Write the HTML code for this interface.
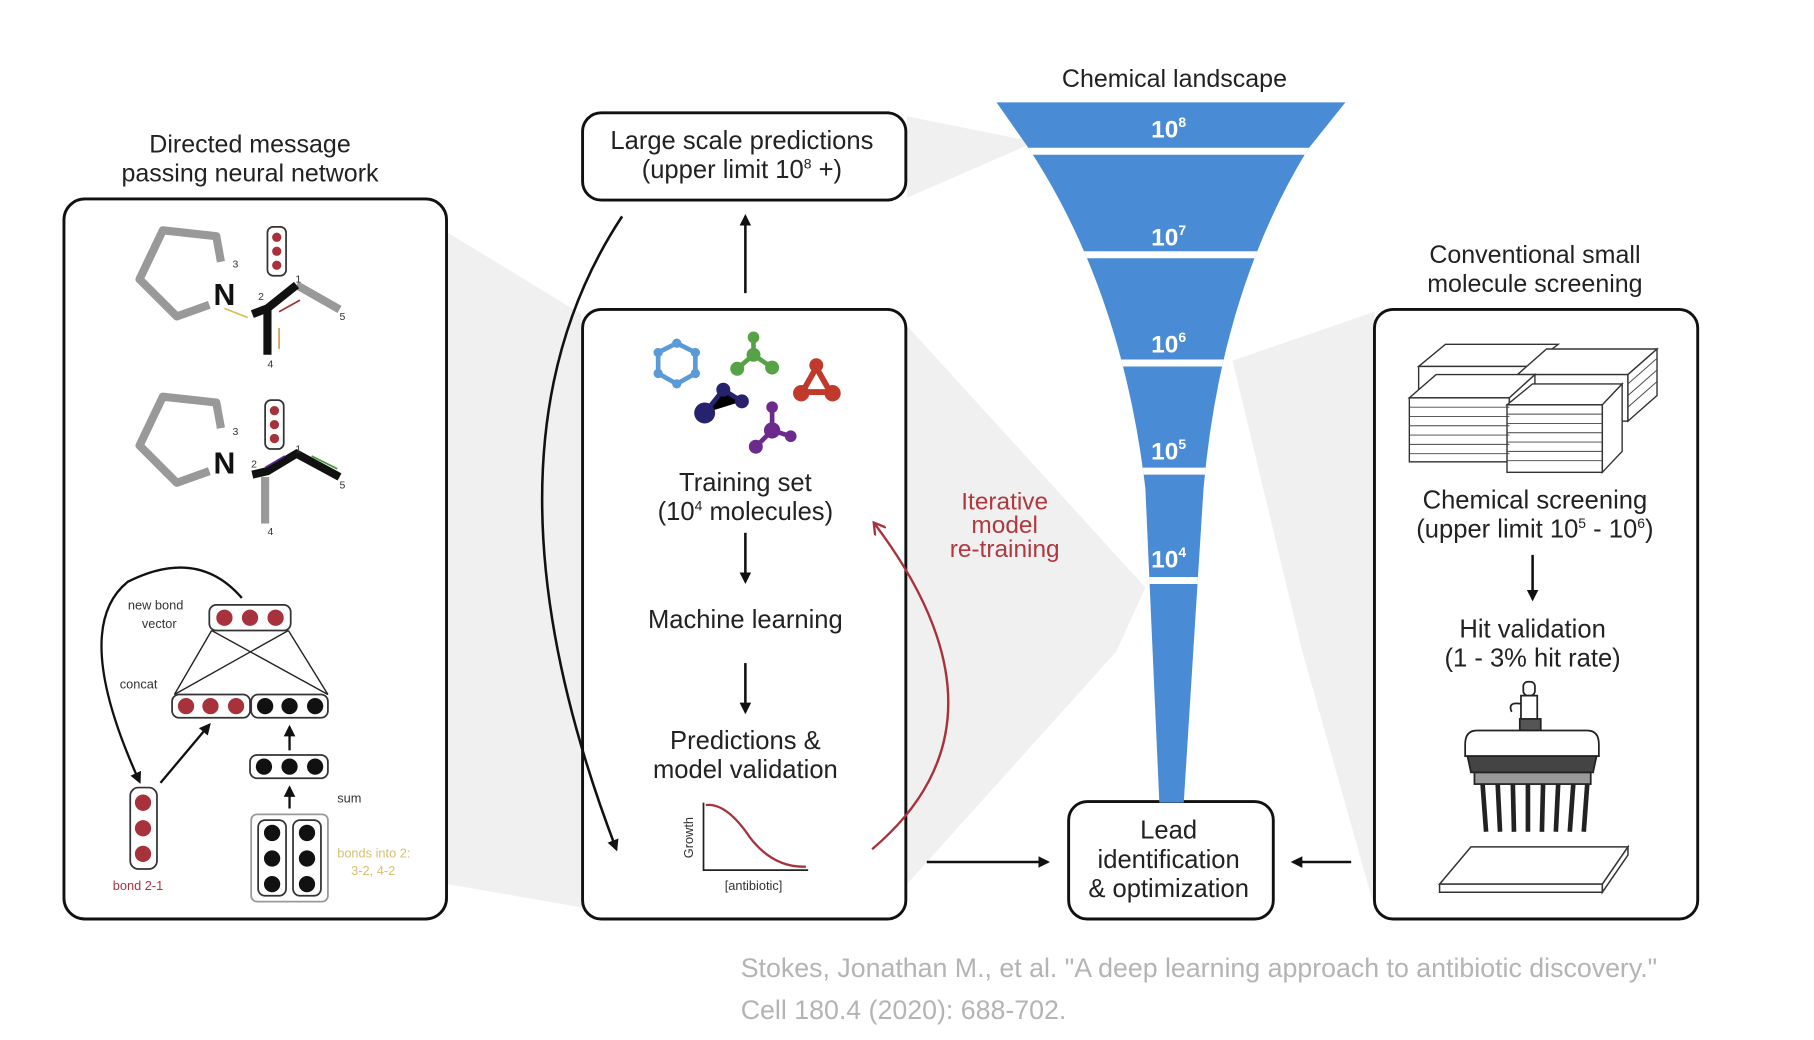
<!DOCTYPE html>
<html><head><meta charset="utf-8"><style>
html,body{margin:0;padding:0;background:#fff;}
svg{display:block;font-family:"Liberation Sans",Arial,sans-serif;}
</style></head><body>
<svg width="1814" height="1040" viewBox="0 0 1560 894" preserveAspectRatio="none" xmlns="http://www.w3.org/2000/svg">
<defs>
<marker id="ah" markerWidth="10" markerHeight="10" refX="8" refY="5" orient="auto" markerUnits="userSpaceOnUse"><path d="M0,0 L10,5 L0,10 z" fill="#111"/></marker>
<marker id="ahr" markerWidth="12" markerHeight="12" refX="9" refY="6" orient="auto" markerUnits="userSpaceOnUse"><path d="M0,0 L10,6 L0,12" fill="none" stroke="#a8323c" stroke-width="2"/></marker>
<clipPath id="fc"><path d="M857,88 L1157,88 L1125,128 Q1050,250 1035,420 L1018,690 L997,690 L985,420 Q965,250 885,128 Z"/></clipPath>
</defs>
<rect width="1560" height="894" fill="#fff"/>
<!-- shading -->
<g fill="#f0f0f0">
<polygon points="385,200 500,270 500,780 385,760"/>
<polygon points="780,100 890,122 780,170"/>
<polygon points="780,280 985,505 960,560 780,760"/>
<polygon points="1060,310 1182,268 1182,780 1120,560"/>
</g>
<!-- titles -->
<g font-size="21.5" fill="#222" text-anchor="middle">
<text x="215" y="131">Directed message</text>
<text x="215" y="156">passing neural network</text>
<text x="1010" y="75">Chemical landscape</text>
<text x="1320" y="226">Conventional small</text>
<text x="1320" y="251">molecule screening</text>
</g>
<!-- boxes -->
<g fill="none" stroke="#111" stroke-width="2.5">
<rect x="55" y="171" width="329" height="619" rx="18"/>
<rect x="501" y="97" width="278" height="75" rx="16"/>
<rect x="501" y="266" width="278" height="524" rx="16"/>
<rect x="919" y="689" width="176" height="101" rx="16"/>
<rect x="1182" y="266" width="278" height="524" rx="16"/>
</g>
<!-- funnel -->
<path d="M857,88 L1157,88 L1125,128 Q1050,250 1035,420 L1018,690 L997,690 L985,420 Q965,250 885,128 Z" fill="#4a8bd6"/>
<g stroke="#fff" stroke-width="6" clip-path="url(#fc)">
<line x1="850" y1="130" x2="1170" y2="130"/>
<line x1="850" y1="219" x2="1170" y2="219"/>
<line x1="850" y1="312" x2="1170" y2="312"/>
<line x1="850" y1="405" x2="1170" y2="405"/>
<line x1="850" y1="499" x2="1170" y2="499"/>
</g>
<g fill="#fff" font-weight="bold" font-size="21" text-anchor="middle">
<text x="1005" y="118">10<tspan font-size="12" dy="-9">8</tspan></text>
<text x="1005" y="211">10<tspan font-size="12" dy="-9">7</tspan></text>
<text x="1005" y="303">10<tspan font-size="12" dy="-9">6</tspan></text>
<text x="1005" y="395">10<tspan font-size="12" dy="-9">5</tspan></text>
<text x="1005" y="488">10<tspan font-size="12" dy="-9">4</tspan></text>
</g>
<!-- middle texts -->
<g font-size="22" fill="#222" text-anchor="middle">
<text x="638" y="128">Large scale predictions</text>
<text x="638" y="153">(upper limit 10<tspan font-size="12" dy="-8">8</tspan><tspan dy="8"> +)</tspan></text>
<text x="641" y="422">Training set</text>
<text x="641" y="447">(10<tspan font-size="12" dy="-8">4</tspan><tspan dy="8"> molecules)</tspan></text>
<text x="641" y="540">Machine learning</text>
<text x="641" y="644">Predictions &amp;</text>
<text x="641" y="669">model validation</text>
<text x="1005" y="721">Lead</text>
<text x="1005" y="746">identification</text>
<text x="1005" y="771">&amp; optimization</text>
<text x="1320" y="437">Chemical screening</text>
<text x="1320" y="462">(upper limit 10<tspan font-size="12" dy="-8">5</tspan><tspan dy="8"> - 10</tspan><tspan font-size="12" dy="-8">6</tspan><tspan dy="8">)</tspan></text>
<text x="1318" y="548">Hit validation</text>
<text x="1318" y="573">(1 - 3% hit rate)</text>
</g>
<g font-size="21" fill="#b0383f" text-anchor="middle">
<text x="864" y="438">Iterative</text>
<text x="864" y="458">model</text>
<text x="864" y="479">re-training</text>
</g>
<!-- arrows -->
<g stroke="#111" stroke-width="2.2" fill="none" marker-end="url(#ah)">
<line x1="641" y1="252" x2="641" y2="186"/>
<line x1="641" y1="458" x2="641" y2="500"/>
<line x1="641" y1="570" x2="641" y2="612"/>
<line x1="797" y1="741" x2="901" y2="741"/>
<line x1="1162" y1="741" x2="1112" y2="741"/>
<line x1="1318" y1="477" x2="1318" y2="515"/>
<path d="M535,186 Q400,390 530,730"/>
</g>
<path d="M750,730 Q880,620 752,450" stroke="#a8323c" stroke-width="2" fill="none" marker-end="url(#ahr)"/>
<!-- growth plot -->
<g stroke="#222" stroke-width="1.5" fill="none">
<polyline points="605,690 605,748 695,748"/>
</g>
<path d="M607,692 Q625,690 645,720 Q665,746 693,745" stroke="#a8323c" stroke-width="2" fill="none"/>
<text x="648" y="765" font-size="11" fill="#333" text-anchor="middle">[antibiotic]</text>
<text x="596" y="720" font-size="11" fill="#333" text-anchor="middle" transform="rotate(-90 596 720)">Growth</text>
<!-- molecules -->
<g stroke="#5b9ad8" stroke-width="4" fill="#fff">
<polygon points="582,295 598,303 598,321 582,330 566,321 566,303"/>
</g>
<g fill="#5b9ad8"><circle cx="582" cy="295" r="4"/><circle cx="598" cy="303" r="4"/><circle cx="598" cy="321" r="4"/><circle cx="582" cy="330" r="4"/><circle cx="566" cy="321" r="4"/><circle cx="566" cy="303" r="4"/></g>
<g stroke="#55a247" stroke-width="4"><line x1="648" y1="290" x2="648" y2="305"/><line x1="648" y1="305" x2="634" y2="317"/><line x1="648" y1="305" x2="664" y2="316"/></g>
<g fill="#55a247"><circle cx="648" cy="290" r="5"/><circle cx="648" cy="305" r="6"/><circle cx="634" cy="317" r="6"/><circle cx="664" cy="316" r="6"/></g>
<g stroke="#c0392b" stroke-width="5" fill="none"><polygon points="702,316 690,337 714,337"/></g>
<g fill="#c0392b"><circle cx="702" cy="314" r="6"/><circle cx="689" cy="338" r="7"/><circle cx="716" cy="338" r="7"/></g>
<g stroke="#26226e" stroke-width="4"><polyline points="606,355 622,335 638,345"/></g>
<g fill="#26226e"><circle cx="606" cy="355" r="9"/><circle cx="622" cy="335" r="6"/><circle cx="638" cy="345" r="6"/></g>
<g stroke="#6b2a8c" stroke-width="4"><line x1="664" y1="350" x2="664" y2="370"/><line x1="664" y1="370" x2="680" y2="375"/><line x1="664" y1="370" x2="650" y2="384"/></g>
<g fill="#6b2a8c"><circle cx="664" cy="350" r="5"/><circle cx="664" cy="370" r="7"/><circle cx="680" cy="375" r="5"/><circle cx="650" cy="384" r="6"/></g>
<!-- left: molecules -->
<g stroke="#999" stroke-width="7" fill="none" stroke-linejoin="round">
<polyline points="190,225 186,203 140,198 120,240 152,272 180,262"/>
<line x1="255" y1="245" x2="292" y2="266"/>
<polyline points="190,368 186,346 140,341 120,383 152,415 180,405"/>
<line x1="228" y1="410" x2="228" y2="450"/>
</g>
<g stroke="#111" stroke-width="7" fill="none">
<polyline points="217,270 230,265 255,245"/>
<line x1="230" y1="265" x2="230" y2="305"/>
<polyline points="217,408 230,405 255,390 292,410"/>
</g>
<text x="193" y="262" font-size="26" font-weight="bold" fill="#111" text-anchor="middle">N</text>
<text x="193" y="407" font-size="26" font-weight="bold" fill="#111" text-anchor="middle">N</text>
<g font-size="9" fill="#333">
<text x="200" y="230">3</text><text x="222" y="258">2</text><text x="254" y="243">1</text><text x="292" y="275">5</text><text x="230" y="316">4</text>
<text x="200" y="374">3</text><text x="216" y="402">2</text><text x="254" y="389">1</text><text x="292" y="420">5</text><text x="230" y="460">4</text>
</g>
<g stroke-width="1.5">
<line x1="193" y1="265" x2="213" y2="273" stroke="#d8c060"/>
<line x1="240" y1="268" x2="258" y2="258" stroke="#a8323c"/>
<line x1="240" y1="300" x2="240" y2="282" stroke="#d8a050"/>
<line x1="245" y1="392" x2="228" y2="402" stroke="#552288"/>
<line x1="290" y1="403" x2="268" y2="392" stroke="#4a9a40"/>
</g>
<g fill="#fff" stroke="#333" stroke-width="1.5">
<rect x="230" y="195" width="16" height="42" rx="5"/>
<rect x="228" y="344" width="16" height="42" rx="5"/>
</g>
<g fill="#a8323c">
<circle cx="238" cy="204" r="4"/><circle cx="238" cy="216" r="4"/><circle cx="238" cy="228" r="4"/>
<circle cx="236" cy="353" r="4"/><circle cx="236" cy="365" r="4"/><circle cx="236" cy="377" r="4"/>
</g>
<!-- network -->
<g stroke="#222" stroke-width="1.2">
<line x1="182" y1="542" x2="150" y2="597"/><line x1="182" y1="542" x2="282" y2="597"/>
<line x1="248" y1="542" x2="150" y2="597"/><line x1="248" y1="542" x2="282" y2="597"/>
</g>
<g fill="#fff" stroke="#333" stroke-width="1.5">
<rect x="180" y="520" width="70" height="22" rx="6"/>
<rect x="148" y="597" width="67" height="20" rx="6"/>
<rect x="216" y="597" width="66" height="20" rx="6"/>
<rect x="215" y="649" width="67" height="20" rx="6"/>
<rect x="112" y="677" width="23" height="70" rx="7"/>
<rect x="216" y="700" width="66" height="75" rx="5" stroke="#999"/>
<rect x="222" y="705" width="24" height="65" rx="6"/>
<rect x="252" y="705" width="24" height="65" rx="6"/>
</g>
<g fill="#a8323c">
<circle cx="193" cy="531" r="7"/><circle cx="215" cy="531" r="7"/><circle cx="237" cy="531" r="7"/>
<circle cx="160" cy="607" r="7"/><circle cx="181" cy="607" r="7"/><circle cx="203" cy="607" r="7"/>
<circle cx="123" cy="690" r="7"/><circle cx="123" cy="712" r="7"/><circle cx="123" cy="734" r="7"/>
</g>
<g fill="#111">
<circle cx="228" cy="607" r="7"/><circle cx="249" cy="607" r="7"/><circle cx="271" cy="607" r="7"/>
<circle cx="227" cy="659" r="7"/><circle cx="249" cy="659" r="7"/><circle cx="271" cy="659" r="7"/>
<circle cx="234" cy="716" r="7"/><circle cx="234" cy="738" r="7"/><circle cx="234" cy="760" r="7"/>
<circle cx="264" cy="716" r="7"/><circle cx="264" cy="738" r="7"/><circle cx="264" cy="760" r="7"/>
</g>
<g stroke="#111" stroke-width="2" fill="none" marker-end="url(#ah)">
<path d="M208,514 Q170,470 110,500 Q60,540 120,672"/>
<line x1="138" y1="673" x2="180" y2="623"/>
<line x1="249" y1="645" x2="249" y2="625"/>
<line x1="249" y1="695" x2="249" y2="677"/>
</g>
<g font-size="11" fill="#333">
<text x="110" y="524">new bond</text><text x="122" y="540">vector</text>
<text x="103" y="592">concat</text>
<text x="290" y="690">sum</text>
<text x="97" y="765" fill="#a8323c">bond 2-1</text>
<text x="290" y="737" fill="#d8c070">bonds into 2:</text>
<text x="302" y="752" fill="#d8c070">3-2, 4-2</text>
</g>
<!-- plate stacks -->
<g fill="#fff" stroke="#333" stroke-width="1.2">
<g>
<path d="M1243,296 L1340,296 L1315,315 L1220,315 Z"/>
<rect x="1220" y="315" width="95" height="20"/>
</g>
<g>
<path d="M1330,300 L1425,300 L1400,322 L1305,322 Z"/>
<rect x="1305" y="322" width="95" height="40"/>
<polygon points="1400,322 1425,300 1425,340 1400,362"/>
</g>
<g>
<path d="M1235,322 L1320,322 L1298,342 L1212,342 Z"/>
<rect x="1212" y="342" width="86" height="55"/>
<polygon points="1298,342 1320,322 1320,377 1298,397"/>
</g>
<g>
<path d="M1318,330 L1395,330 L1378,348 L1296,348 Z"/>
<rect x="1296" y="348" width="82" height="58"/>
<polygon points="1378,348 1395,330 1395,388 1378,406"/>
</g>
</g>
<g stroke="#444" stroke-width="0.8">
<line x1="1212" y1="350" x2="1298" y2="350"/><line x1="1212" y1="358" x2="1298" y2="358"/><line x1="1212" y1="366" x2="1298" y2="366"/><line x1="1212" y1="374" x2="1298" y2="374"/><line x1="1212" y1="382" x2="1298" y2="382"/><line x1="1212" y1="390" x2="1298" y2="390"/>
<line x1="1296" y1="356" x2="1378" y2="356"/><line x1="1296" y1="364" x2="1378" y2="364"/><line x1="1296" y1="372" x2="1378" y2="372"/><line x1="1296" y1="380" x2="1378" y2="380"/><line x1="1296" y1="388" x2="1378" y2="388"/><line x1="1296" y1="396" x2="1378" y2="396"/>
<line x1="1400" y1="330" x2="1425" y2="308"/><line x1="1400" y1="340" x2="1425" y2="318"/><line x1="1400" y1="350" x2="1425" y2="328"/>
</g>
<!-- pipette -->
<g stroke="#222" stroke-width="1.5">
<rect x="1310" y="586" width="10" height="12" rx="4" fill="#fff"/>
<path d="M1308,598 L1322,598 L1322,625 L1308,625 Z" fill="#fff"/>
<path d="M1308,605 Q1296,603 1300,612" fill="none"/>
<rect x="1307" y="618" width="18" height="10" fill="#555"/>
<path d="M1270,628 L1365,628 Q1375,628 1375,640 L1375,650 L1260,650 L1260,640 Q1260,628 1270,628 Z" fill="#fff"/>
<path d="M1262,650 L1373,650 L1370,664 L1265,664 Z" fill="#444"/>
<rect x="1268" y="664" width="100" height="10" fill="#999"/>
</g>
<g stroke="#222" stroke-width="4">
<line x1="1275" y1="674" x2="1278" y2="715"/><line x1="1288" y1="674" x2="1290" y2="715"/><line x1="1301" y1="674" x2="1302" y2="715"/><line x1="1314" y1="674" x2="1314" y2="715"/><line x1="1327" y1="674" x2="1326" y2="715"/><line x1="1340" y1="674" x2="1338" y2="715"/><line x1="1353" y1="674" x2="1350" y2="715"/><line x1="1365" y1="674" x2="1362" y2="715"/>
</g>
<g fill="#fff" stroke="#333" stroke-width="1.3">
<polygon points="1265,728 1400,728 1378,760 1238,760"/>
<polygon points="1238,760 1378,760 1378,767 1238,767"/>
<polygon points="1378,760 1400,728 1400,735 1378,767"/>
</g>
<!-- citation -->
<g font-size="23" fill="#b4b4b4">
<text x="637" y="840">Stokes, Jonathan M., et al. "A deep learning approach to antibiotic discovery."</text>
<text x="637" y="876">Cell 180.4 (2020): 688-702.</text>
</g>
</svg>
</body></html>
